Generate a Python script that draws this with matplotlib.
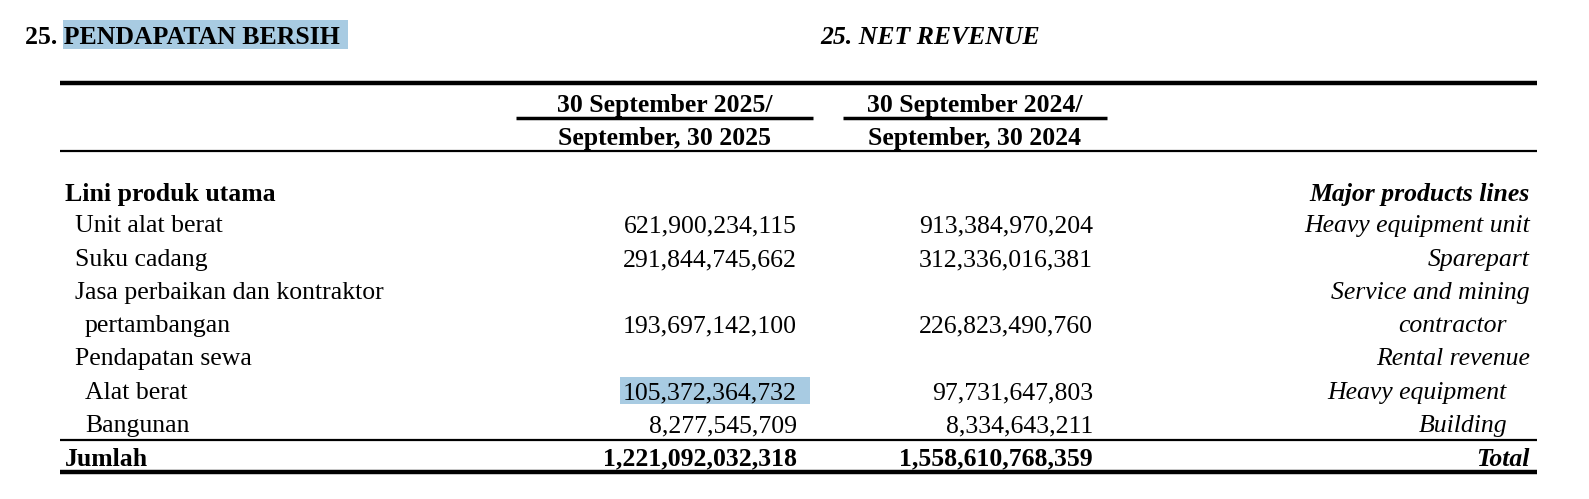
import matplotlib
matplotlib.use("Agg")
import matplotlib.pyplot as plt
from matplotlib.patches import Rectangle

title_id = "25. PENDAPATAN BERSIH"
title_en = "25. NET REVENUE"
col_headers = [("30 September 2025/", "September, 30 2025"), ("30 September 2024/", "September, 30 2024")]
section_id = "Lini produk utama"
section_en = "Major products lines"
row_labels = ["Unit alat berat", "Suku cadang", "Jasa perbaikan dan kontraktor", "pertambangan",
              "Pendapatan sewa", "Alat berat", "Bangunan"]
row_indent = [75, 75, 75, 85, 75, 85, 85]
values_2025 = ["621,900,234,115", "291,844,745,662", "", "193,697,142,100", "", "105,372,364,732", "8,277,545,709"]
values_2024 = ["913,384,970,204", "312,336,016,381", "", "226,823,490,760", "", "97,731,647,803", "8,334,643,211"]
labels_en = ["Heavy equipment unit", "Sparepart", "Service and mining", "contractor",
             "Rental revenue", "Heavy equipment", "Building"]
en_right = [1530, 1530, 1530, 1507, 1530, 1507, 1507]
row_y = [223, 257, 290, 323, 356, 390, 423]
total_label = ("Jumlah", "Total")
total_2025 = "1,221,092,032,318"
total_2024 = "1,558,610,768,359"

plt.rcParams['font.family'] = ['Liberation Serif', 'DejaVu Serif']
fig = plt.figure(figsize=(15.89, 4.99), dpi=100)
ax = fig.add_axes([0, 0, 1, 1])
ax.set_xlim(0, 1589); ax.set_ylim(499, 0); ax.axis('off')
FS = 18.5
HL = '#a8cbe2'
D = 3  # vertical offset for centering

def t(x, y, s, **kw):
    ax.text(x, y + D, s, fontsize=FS, va='center', **kw)

ax.add_patch(Rectangle((63, 20), 285, 29, color=HL, lw=0))
t(25, 34, title_id, fontweight='bold')
t(820, 34, title_en, fontweight='bold', style='italic')

ax.plot([60, 1537], [83, 83], color='black', lw=3.2, solid_capstyle='butt')
for (h1, h2), cx, (x0, x1) in zip(col_headers, [665, 975], [(516, 813), (843, 1107)]):
    t(cx, 102, h1, fontweight='bold', ha='center')
    ax.plot([x0, x1], [118, 118], color='black', lw=2.5, solid_capstyle='butt')
    t(cx, 136, h2, fontweight='bold', ha='center')
ax.plot([60, 1537], [151, 151], color='black', lw=1.6, solid_capstyle='butt')

t(65, 192, section_id, fontweight='bold')
t(1530, 192, section_en, fontweight='bold', style='italic', ha='right')

ax.add_patch(Rectangle((620, 377), 190, 27, color=HL, lw=0))
for lab, ind, v1, v2, en, er, y in zip(row_labels, row_indent, values_2025, values_2024, labels_en, en_right, row_y):
    t(ind, y, lab)
    if v1:
        t(797, y, v1, ha='right')
    if v2:
        t(1093, y, v2, ha='right')
    t(er, y, en, style='italic', ha='right')

ax.plot([60, 1537], [440, 440], color='black', lw=1.6, solid_capstyle='butt')
t(65, 456, total_label[0], fontweight='bold')
t(797, 456, total_2025, fontweight='bold', ha='right')
t(1093, 456, total_2024, fontweight='bold', ha='right')
t(1530, 456, total_label[1], fontweight='bold', style='italic', ha='right')
ax.plot([60, 1537], [472, 472], color='black', lw=3.2, solid_capstyle='butt')

fig.savefig("out.png", dpi=100)
